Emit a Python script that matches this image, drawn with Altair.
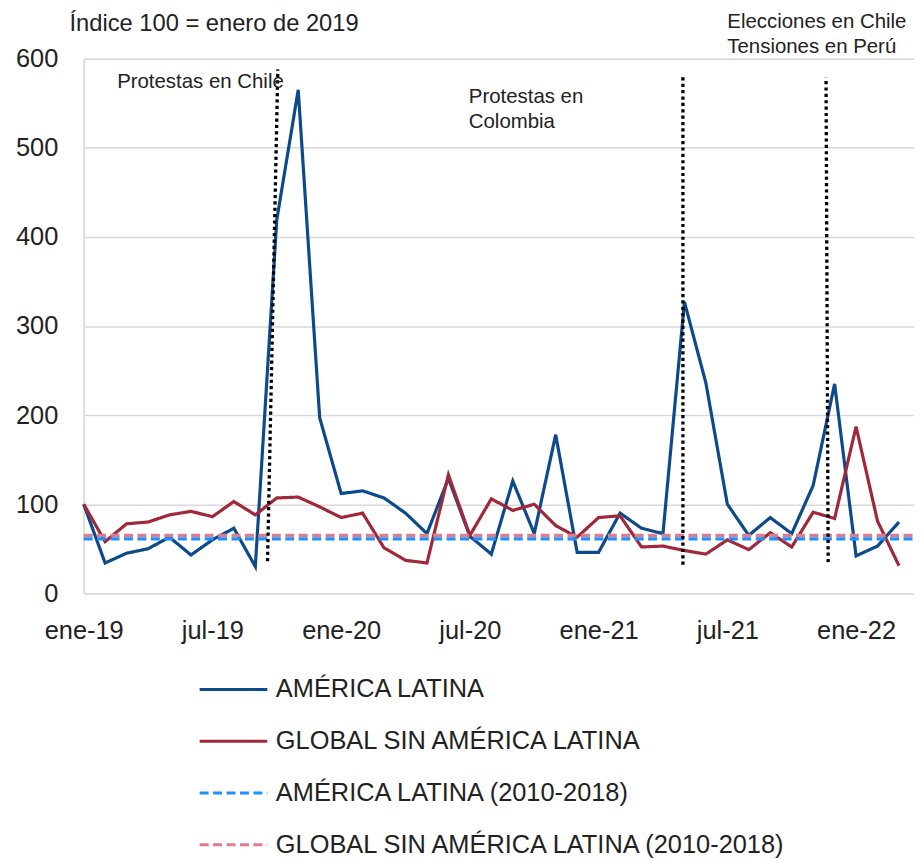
import altair as alt
import pandas as pd

# ---------------- data ----------------
MONTH_INDEX = list(range(39))  # ene-19 ... mar-22
AMERICA_LATINA = [100, 34, 45, 50, 63, 43, 60, 73, 30, 419, 565, 197, 112, 115, 107, 90, 67, 129, 64, 44,
                  126, 67, 178, 46, 46, 90, 73, 67, 327, 236, 100, 65, 85, 67, 121, 235, 42, 53, 80]
GLOBAL_SIN_AL = [100, 58, 78, 80, 88, 92, 86, 103, 88, 107, 108, 97, 85, 90, 51, 37, 34, 133, 65, 106,
                 93, 100, 76, 63, 85, 87, 52, 53, 48, 44, 60, 49, 68, 52, 91, 84, 187, 81, 31]
BASE_AL = 61        # América Latina promedio 2010-2018
BASE_GLOBAL = 65    # Global sin AL promedio 2010-2018

SERIES = ["AMÉRICA LATINA", "GLOBAL SIN AMÉRICA LATINA",
          "AMÉRICA LATINA (2010-2018)", "GLOBAL SIN AMÉRICA LATINA (2010-2018)"]
COLORS = ["#0D4A8A", "#A0283A", "#1E90FF", "#E07B8A"]
DASHES = [[1, 0], [1, 0], [9, 4.5], [9, 4.5]]

TICK_VALUES = [0, 6, 12, 18, 24, 30, 36]
TICK_LABELS = ["ene-19", "jul-19", "ene-20", "jul-20", "ene-21", "jul-21", "ene-22"]
X_MAX = 38.7
Y_TICKS = [0, 100, 200, 300, 400, 500, 600]

# event markers (dotted lines): x at bottom, x at top, y bottom, y top
EV_X_BOTTOM = [8.57, 27.93, 34.7]
EV_X_TOP = [9.05, 27.93, 34.6]
EV_Y_BOTTOM = [36, 32, 35]
EV_Y_TOP = [588, 580, 579]

NOTE_TEXT = ["Protestas en Chile", "Protestas en\nColombia", "Elecciones en Chile\nTensiones en Perú"]
NOTE_X = [1.56, 17.95, 30.0]
NOTE_Y = [574, 557, 641]
HEADER_TEXT = ["Índice 100 = enero de 2019"]
HEADER_X = [-0.66]
HEADER_Y = [639]

FONT = "Liberation Sans"
TXT = "#222222"
GRID = "#D9D9D9"

# ---------------- frames ----------------
lines_df = pd.concat([
    pd.DataFrame({"m": MONTH_INDEX, "v": AMERICA_LATINA, "series": SERIES[0]}),
    pd.DataFrame({"m": MONTH_INDEX, "v": GLOBAL_SIN_AL, "series": SERIES[1]}),
])
base_df = pd.DataFrame({
    "m": [0, X_MAX, 0, X_MAX],
    "v": [BASE_AL, BASE_AL, BASE_GLOBAL, BASE_GLOBAL],
    "series": [SERIES[2], SERIES[2], SERIES[3], SERIES[3]],
})
ev_df = pd.DataFrame({"x": EV_X_BOTTOM, "x2": EV_X_TOP, "y": EV_Y_BOTTOM, "y2": EV_Y_TOP})
note_df = pd.DataFrame({"t": NOTE_TEXT, "x": NOTE_X, "y": NOTE_Y})
head_df = pd.DataFrame({"t": HEADER_TEXT, "x": HEADER_X, "y": HEADER_Y})

label_expr = "[" + ",".join("'%s'" % s for s in TICK_LABELS) + "][round(datum.value/6)]"

x_scale = alt.Scale(domain=[0, X_MAX], nice=False, zero=False)
y_scale = alt.Scale(domain=[0, 600], nice=False)

x_axis = alt.Axis(values=TICK_VALUES, labelExpr=label_expr, title=None, grid=False, ticks=False,
                  domain=True, domainColor=GRID, domainWidth=1.5, labelFontSize=25.5, labelFont=FONT,
                  labelColor=TXT, labelPadding=25, labelFlush=False)
y_axis = alt.Axis(values=Y_TICKS, title=None, grid=True, gridColor=GRID, gridWidth=1.5, ticks=False,
                  domain=True, domainColor=GRID, domainWidth=1.5, labelFontSize=25.5, labelFont=FONT,
                  labelColor=TXT, labelPadding=26)

legend = alt.Legend(title=None, orient="none", legendX=115, legendY=598, direction="vertical",
                    symbolType="stroke", symbolSize=4624, symbolStrokeWidth=3, labelFontSize=25.5,
                    labelFont=FONT, labelColor=TXT, labelLimit=800, labelOffset=7, rowPadding=3,
                    padding=0)

color_enc = alt.Color("series:N", scale=alt.Scale(domain=SERIES, range=COLORS), legend=legend)
dash_enc = alt.StrokeDash("series:N", scale=alt.Scale(domain=SERIES, range=DASHES), legend=legend)

solid = alt.Chart(lines_df).mark_line(strokeWidth=3.2).encode(
    x=alt.X("m:Q", scale=x_scale, axis=x_axis),
    y=alt.Y("v:Q", scale=y_scale, axis=y_axis),
    color=color_enc, strokeDash=dash_enc, detail="series:N",
)
dashed = alt.Chart(base_df).mark_line(strokeWidth=3.3).encode(
    x=alt.X("m:Q", scale=x_scale),
    y=alt.Y("v:Q", scale=y_scale),
    color=color_enc, strokeDash=dash_enc, detail="series:N",
)
events = alt.Chart(ev_df).mark_rule(color="black", strokeWidth=3.3, strokeDash=[3.2, 3.2]).encode(
    x=alt.X("x:Q", scale=x_scale), x2="x2:Q",
    y=alt.Y("y:Q", scale=y_scale), y2="y2:Q",
)
notes = alt.Chart(note_df).mark_text(align="left", baseline="middle", fontSize=20.5, font=FONT,
                                     color=TXT, lineBreak="\n", lineHeight=25.5).encode(
    x=alt.X("x:Q", scale=x_scale), y=alt.Y("y:Q", scale=y_scale), text="t:N")
header = alt.Chart(head_df).mark_text(align="left", baseline="middle", fontSize=23.8, font=FONT,
                                      color=TXT).encode(
    x=alt.X("x:Q", scale=x_scale), y=alt.Y("y:Q", scale=y_scale), text="t:N")

chart = alt.layer(solid, dashed, events, notes, header).properties(
    width=834, height=537,
    autosize=alt.AutoSizeParams(type="none"),
    padding={"left": 76, "top": 49, "right": 0, "bottom": 272},
).configure_view(stroke=None).configure(background="white")

chart.save("out.html", embed_options={"renderer": "svg", "actions": False})
